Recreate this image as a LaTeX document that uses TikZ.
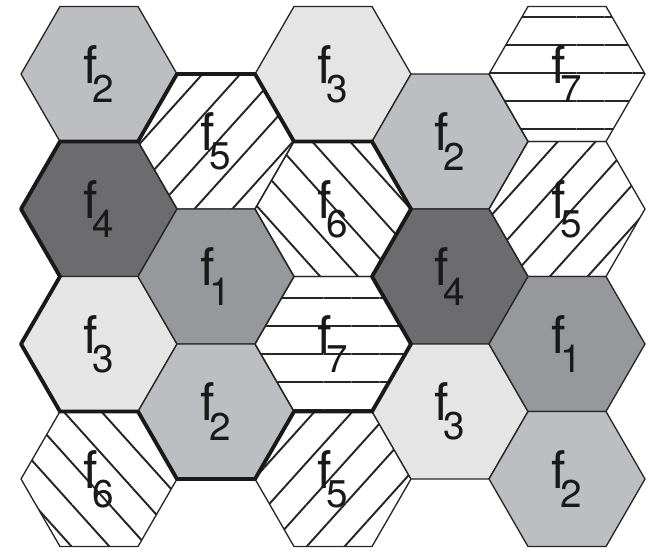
\documentclass[tikz,border=0pt]{standalone}
\usepackage{fontspec}
\setmainfont{TeX Gyre Heros}
\usepackage{tikz}
\usetikzlibrary{shapes.geometric,patterns.meta}
\definecolor{gris1}{HTML}{97989C}
\definecolor{gris2}{HTML}{BDBEC2}
\definecolor{gris3}{HTML}{E5E5E6}
\definecolor{gris4}{HTML}{6C6C6E}
\newcommand{\frec}[1]{f\kern-0.1em\raisebox{-0.37em}{\fontsize{22}{22}\selectfont #1}}

\begin{document}
\begin{tikzpicture}[
  x=0.02cm, y=-0.02cm,
  font=\fontsize{29.5}{30}\selectfont,
  celda/.style={regular polygon, regular polygon sides=6, minimum size=3.12cm, inner sep=0pt, outer sep=0pt, draw=black!85, line width=0.75pt, text=black!90},
  f1/.style={celda, fill=gris1},
  f2/.style={celda, fill=gris2},
  f3/.style={celda, fill=gris3},
  f4/.style={celda, fill=gris4},
  f5/.style={celda, pattern={Lines[angle=48, distance=16pt, line width=1.1pt]}, pattern color=black!85},
  f6/.style={celda, pattern={Lines[angle=-48, distance=16pt, line width=1.1pt]}, pattern color=black!85},
  f7/.style={celda, pattern={Lines[angle=0, distance=16pt, line width=1.1pt]}, pattern color=black!85},
  grupo/.style={draw=black!90, line width=2.2pt, line join=round}
]
\useasboundingbox (0,0) rectangle (648,551);
% primera columna
\node[f2] (h00) at (99,74) {\frec{2}};
\node[f4] (h01) at (99,209) {\frec{4}};
\node[f3] (h02) at (99,344) {\frec{3}};
\node[f6] (h03) at (99,479) {\frec{6}};
% segunda columna
\node[f5] (h10) at (216,141.5) {\frec{5}};
\node[f1] (h11) at (216,276.5) {\frec{1}};
\node[f2] (h12) at (216,411.5) {\frec{2}};
% tercera columna
\node[f3] (h20) at (333,74) {\frec{3}};
\node[f6] (h21) at (333,209) {\frec{6}};
\node[f7] (h22) at (333,344) {\frec{7}};
\node[f5] (h23) at (333,479) {\frec{5}};
% cuarta columna
\node[f2] (h30) at (450,141.5) {\frec{2}};
\node[f4] (h31) at (450,276.5) {\frec{4}};
\node[f3] (h32) at (450,411.5) {\frec{3}};
% quinta columna
\node[f7] (h40) at (567,74) {\frec{7}};
\node[f5] (h41) at (567,209) {\frec{5}};
\node[f1] (h42) at (567,344) {\frec{1}};
\node[f2] (h43) at (567,479) {\frec{2}};
% contorno del grupo de siete celdas
\draw[grupo] (h10.120) -- (h10.60) -- (h10.0) -- (h21.60) -- (h21.0) -- (h21.-60)
  -- (h22.0) -- (h22.-60) -- (h22.-120) -- (h12.-60) -- (h12.-120) -- (h12.180)
  -- (h02.-60) -- (h02.-120) -- (h02.180) -- (h02.120) -- (h01.180) -- (h01.120)
  -- (h01.60) -- (h10.180) -- cycle;
\end{tikzpicture}
\end{document}
